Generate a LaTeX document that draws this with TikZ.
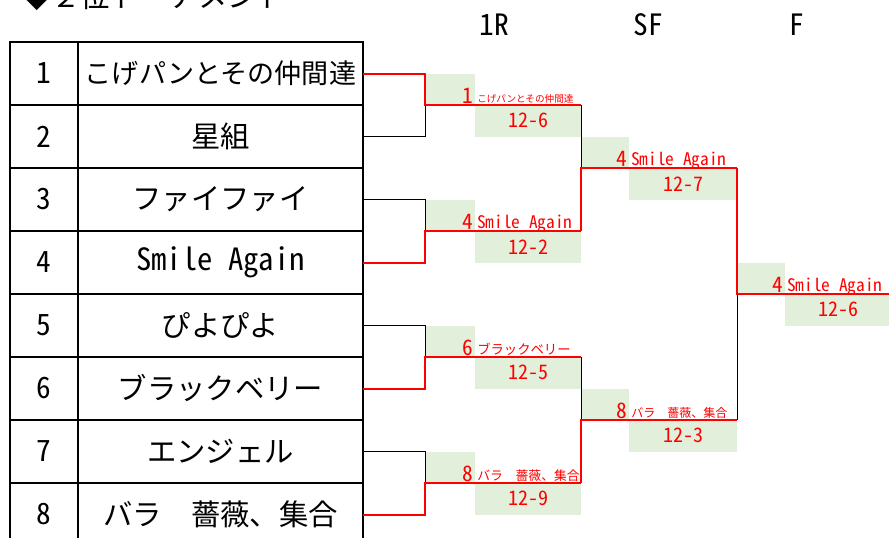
\documentclass[tikz,border=0pt]{standalone}
\usepackage{fontspec}
\setmainfont{Noto Sans CJK JP}
\newfontfamily\hwfont{Noto Sans CJK JP}[RawFeature=+hwid]
\usetikzlibrary{positioning}
\definecolor{cellgreen}{RGB}{226,239,218}

\begin{document}
\begin{tikzpicture}[x=0.75pt,y=-0.75pt,
  cell/.style={draw,line width=1.5pt,inner sep=0pt,outer sep=0pt,minimum height=47.25pt},
  numcell/.style={cell,minimum width=51pt,font=\hwfont\fontsize{22}{22}\selectfont},
  namecell/.style={cell,minimum width=213.75pt,font=\fontsize{22}{22}\selectfont},
  upbox/.style={fill=cellgreen,inner sep=0pt,outer sep=0pt,minimum width=37.5pt,minimum height=23.625pt},
  lowbox/.style={fill=cellgreen,inner sep=0pt,outer sep=0pt,minimum width=79.5pt,minimum height=23.625pt,
    text=red,font=\hwfont\fontsize{15}{15}\selectfont},
  seednum/.style={text=red,inner sep=0pt,font=\hwfont\fontsize{16}{16}\selectfont},
  wname/.style={text=red,inner sep=0pt},
  roundname/.style={font=\hwfont\fontsize{22}{22}\selectfont},
  winline/.style={red,line width=1.5pt},
  loseline/.style={black,line width=0.75pt}]
  \useasboundingbox (0,0) rectangle (889,537);

% title and round names
  \node[anchor=base west,inner sep=0pt,font=\fontsize{22}{22}\selectfont] (title) at (22,7) {◆２位トーナメント};
  \node[roundname] (hr1) at (494,25) {1R};
  \node[roundname] (hsf) at (648,25) {SF};
  \node[roundname] (hf)  at (797,25) {F};

% the table of teams
  \node[numcell] (n1) at (44,73.5) {1};
  \node[namecell,font=\fontsize{20.3}{20.3}\selectfont] (t1) [right=0pt of n1] {こげパンとその仲間達};
  \node[numcell] (n2) [below=0pt of n1] {2};
  \node[namecell] (t2) [right=0pt of n2] {星組};
  \node[numcell] (n3) [below=0pt of n2] {3};
  \node[namecell] (t3) [right=0pt of n3] {ファイファイ};
  \node[numcell] (n4) [below=0pt of n3] {4};
  \node[namecell,font=\hwfont\fontsize{23}{23}\selectfont] (t4) [right=0pt of n4] {Smile Again};
  \node[numcell] (n5) [below=0pt of n4] {5};
  \node[namecell] (t5) [right=0pt of n5] {ぴよぴよ};
  \node[numcell] (n6) [below=0pt of n5] {6};
  \node[namecell] (t6) [right=0pt of n6] {ブラックベリー};
  \node[numcell] (n7) [below=0pt of n6] {7};
  \node[namecell] (t7) [right=0pt of n7] {エンジェル};
  \node[numcell] (n8) [below=0pt of n7] {8};
  \node[namecell] (t8) [right=0pt of n8] {バラ　薔薇、集合};

% joints of the bracket
  \coordinate (r1) at (425,105);
  \coordinate (r2) at (425,231);
  \coordinate (r3) at (425,357);
  \coordinate (r4) at (425,483);
  \coordinate (s1) at (581,168);
  \coordinate (s2) at (581,420);
  \coordinate (f1) at (737,294);
  \coordinate (champ) at (889,294);

% first round results
  \node[upbox,anchor=south west] (u1) at (r1) {};
  \node[seednum,anchor=base east] (w1) at ([shift={(-2,-2)}]u1.south east) {1};
  \node[wname,anchor=base west,font=\fontsize{7.2}{7.2}\selectfont] (m1) at ([shift={(2,-3)}]u1.south east) {こげパンとその仲間達};
  \node[lowbox,anchor=north west] (d1) at (u1.south east) {12-6};

  \node[upbox,anchor=south west] (u2) at (r2) {};
  \node[seednum,anchor=base east] (w2) at ([shift={(-2,-2)}]u2.south east) {4};
  \node[wname,anchor=base west,font=\hwfont\fontsize{13}{13}\selectfont] (m2) at ([shift={(2,-3)}]u2.south east) {Smile Again};
  \node[lowbox,anchor=north west] (d2) at (u2.south east) {12-2};

  \node[upbox,anchor=south west] (u3) at (r3) {};
  \node[seednum,anchor=base east] (w3) at ([shift={(-2,-2)}]u3.south east) {6};
  \node[wname,anchor=base west,font=\fontsize{10}{10}\selectfont] (m3) at ([shift={(2,-3)}]u3.south east) {ブラックベリー};
  \node[lowbox,anchor=north west] (d3) at (u3.south east) {12-5};

  \node[upbox,anchor=south west] (u4) at (r4) {};
  \node[seednum,anchor=base east] (w4) at ([shift={(-2,-2)}]u4.south east) {8};
  \node[wname,anchor=base west,font=\fontsize{9.6}{9.6}\selectfont] (m4) at ([shift={(2,-3)}]u4.south east) {バラ　薔薇、集合};
  \node[lowbox,anchor=north west] (d4) at (u4.south east) {12-9};

% semi-final results
  \node[upbox,minimum width=36pt,anchor=south west] (u5) at (s1) {};
  \node[seednum,anchor=base east] (w5) at ([shift={(-2,-2)}]u5.south east) {4};
  \node[wname,anchor=base west,font=\hwfont\fontsize{13}{13}\selectfont] (m5) at ([shift={(2,-3)}]u5.south east) {Smile Again};
  \node[lowbox,minimum width=81pt,anchor=north west] (d5) at (u5.south east) {12-7};

  \node[upbox,minimum width=36pt,anchor=south west] (u6) at (s2) {};
  \node[seednum,anchor=base east] (w6) at ([shift={(-2,-2)}]u6.south east) {8};
  \node[wname,anchor=base west,font=\fontsize{9}{9}\selectfont] (m6) at ([shift={(2,-3)}]u6.south east) {バラ　薔薇、集合};
  \node[lowbox,minimum width=81pt,anchor=north west] (d6) at (u6.south east) {12-3};

% final result
  \node[upbox,minimum width=36pt,anchor=south west] (u7) at (f1) {};
  \node[seednum,anchor=base east] (w7) at ([shift={(-2,-2)}]u7.south east) {4};
  \node[wname,anchor=base west,font=\hwfont\fontsize{13}{13}\selectfont] (m7) at ([shift={(2,-3)}]u7.south east) {Smile Again};
  \node[lowbox,anchor=north west] (d7) at (u7.south east) {12-6};

% the bracket lines
  \draw[loseline] (t2.east) -| (r1);
  \draw[winline]  (t1.east) -| (r1) -- (r1 -| s1);
  \draw[loseline] (t3.east) -| (r2);
  \draw[winline]  (t4.east) -| (r2) -- (r2 -| s1);
  \draw[loseline] (t5.east) -| (r3);
  \draw[winline]  (t6.east) -| (r3) -- (r3 -| s2);
  \draw[loseline] (t7.east) -| (r4);
  \draw[winline]  (t8.east) -| (r4) -- (r4 -| s2);
  \draw[loseline] (r1 -| s1) -- (s1);
  \draw[winline]  (r2 -| s1) -- (s1) -- (s1 -| f1);
  \draw[loseline] (r3 -| s2) -- (s2);
  \draw[winline]  (r4 -| s2) -- (s2) -- (s2 -| f1);
  \draw[loseline] (s2 -| f1) -- (f1);
  \draw[winline]  (s1 -| f1) -- (f1) -- (champ);

\end{tikzpicture}
\end{document}
